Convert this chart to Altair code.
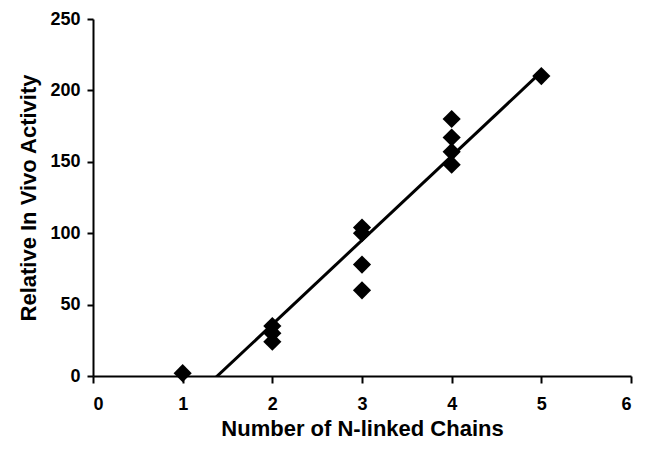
import altair as alt
import pandas as pd

chains = [1, 2, 2, 2, 3, 3, 3, 3, 4, 4, 4, 4, 5]
activity = [2, 35, 30, 24, 104, 100, 78, 60, 180, 167, 157, 148, 210]
x_ticks = [0, 1, 2, 3, 4, 5, 6]
y_ticks = [0, 50, 100, 150, 200, 250]

df = pd.DataFrame({"chains": chains, "activity": activity})

FONT = "Liberation Sans"

xenc = alt.X(
    "chains:Q",
    scale=alt.Scale(domain=[0, 6], nice=False, zero=False),
    axis=alt.Axis(values=x_ticks, title="Number of N-linked Chains", format="d",
                  tickSize=7, labelPadding=12, titlePadding=5),
)
yenc = alt.Y(
    "activity:Q",
    scale=alt.Scale(domain=[0, 250], nice=False),
    axis=alt.Axis(values=y_ticks, title="Relative In Vivo Activity", format="d",
                  tickSize=6, labelPadding=7, titlePadding=9),
)

points = alt.Chart(df).mark_point(
    shape="diamond", filled=True, color="black", size=330, opacity=1
).encode(x=xenc, y=yenc)

trend = alt.Chart(df).transform_regression(
    "chains", "activity", extent=[1, 5]
).mark_line(color="black", strokeWidth=3, clip=True).encode(
    x=alt.X("chains:Q"), y=alt.Y("activity:Q")
)

chart = alt.layer(trend, points).properties(
    width=538,
    height=357,
    autosize=alt.AutoSizeParams(type="none"),
    padding={"left": 85, "top": 11, "right": 10, "bottom": 66},
).configure_view(stroke=None).configure_axis(
    grid=False,
    domainColor="black",
    domainWidth=2,
    tickColor="black",
    tickWidth=2,
    labelFont=FONT,
    labelFontSize=18,
    labelFontWeight="bold",
    labelColor="black",
    titleFont=FONT,
    titleFontSize=22,
    titleFontWeight="bold",
    titleColor="black",
)

chart.save("out.html", embed_options={"renderer": "svg", "actions": False})
